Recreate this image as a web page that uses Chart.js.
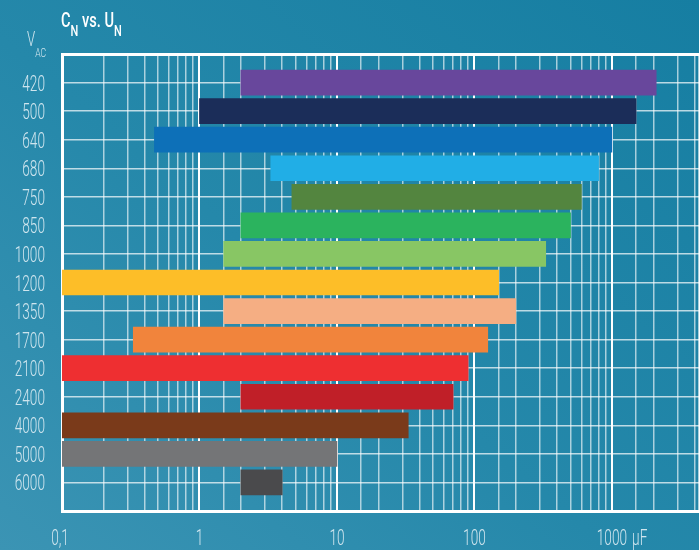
<!DOCTYPE html>
<html>
<head>
<meta charset="utf-8">
<script src="https://cdn.jsdelivr.net/npm/chart.js@4.4.1/dist/chart.umd.min.js"></script>
<style>
  html,body{margin:0;padding:0;overflow:hidden}
  #wrap{position:relative;width:699px;height:550px;
    background:linear-gradient(40deg,#3b94b4 0%,#2588aa 45%,#167ea2 100%)}
  #c{position:absolute;left:0;top:0}
  .lbl{position:absolute;font-family:Roboto,sans-serif;transform-origin:left top;white-space:nowrap;line-height:20px}
  .lbl sub{line-height:0}
  #ttl{left:61px;top:10px;font-size:20px;font-weight:500;color:#fff;transform:scaleX(0.73)}
  #ttl sub{font-size:15px;vertical-align:-9px}
  #vac{left:27px;top:29px;font-size:20px;font-weight:300;color:#cfe5ee;transform:scaleX(0.66)}
  #vac sub{font-size:13px;vertical-align:-11px}
</style>
</head>
<body>
<div id="wrap">
  <canvas id="c" width="699" height="550"></canvas>
  <div id="ttl" class="lbl">C<sub>N</sub> vs. U<sub>N</sub></div>
  <div id="vac" class="lbl">V<sub>AC</sub></div>
</div>
<script>
// ── DATA ────────────────────────────────────────────────────────────────────
const voltages = ['420','500','640','680','750','850','1000','1200','1350','1700','2100','2400','4000','5000','6000'];
const capMin  = [2, 1, 0.47, 3.3, 4.7, 2, 1.5, 0.1, 1.5, 0.33, 0.1, 2, 0.1, 0.1, 2];
const capMax  = [2100, 1500, 1000, 800, 600, 500, 330, 150, 200, 125, 90, 70, 33, 10, 4];
const barColors = ['#68479c','#1b2d59','#0d70b8','#21aee6','#53853f','#2bb35e','#88c664',
  '#fdbe28','#f5ae83','#f1843c','#ee2f31','#c01f28','#7a3a1a','#747577','#4a4a4c'];
const xDecades = [0.1, 1, 10, 100, 1000];
const xTickLabels = ['0,1', '1', '10', '100', '1000'];
const xUnit = 'μF';

const labelFont = '300 22px Roboto, sans-serif';
const labelColor = '#cfe5ee';
const squeeze = 0.62;   // the original lettering is a very narrow face
const isDecade = v => Math.abs(Math.log10(v) - Math.round(Math.log10(v))) < 1e-6;

// empty slots top and bottom so the first/last rows sit one step inside the frame
const labels = [''].concat(voltages, ['']);
const ranges = [null].concat(voltages.map((v,i) => [capMin[i], capMax[i]]), [null]);
const colors = ['#000'].concat(barColors, ['#000']);

function narrowText(ctx, txt, x, y, align) {
  ctx.save();
  ctx.translate(x, y);
  ctx.scale(squeeze, 1);
  ctx.textAlign = align;
  ctx.fillText(txt, 0, 0);
  ctx.restore();
}

// axis labels, positioned from the chart's own scales
const axisLabels = {
  id:'axisLabels',
  afterDraw(chart) {
    const ctx = chart.ctx, xs = chart.scales.x, ys = chart.scales.y;
    ctx.save();
    ctx.font = labelFont;
    ctx.fillStyle = labelColor;
    ctx.textBaseline = 'alphabetic';
    chart.data.labels.forEach((lab, i) => {
      if(!lab) return;
      narrowText(ctx, lab, ys.left + 45, ys.getPixelForTick(i) + 8, 'right');
    });
    const by = xs.top + 34;
    xDecades.forEach((d, i) => {
      const x = xs.getPixelForValue(d);
      narrowText(ctx, xTickLabels[i], d === 0.1 ? x - 2 : x, by, 'center');
      if(d === 1000) {
        const w = ctx.measureText(xTickLabels[i]).width * squeeze;
        narrowText(ctx, xUnit, x + w/2 + 5, by, 'left');
      }
    });
    ctx.restore();
  }
};

new Chart(document.getElementById('c'), {
  type:'bar',
  data:{
    labels,
    datasets:[{data:ranges, backgroundColor:colors, borderWidth:0, barThickness:25}]
  },
  options:{
    indexAxis:'y',
    responsive:false, animation:false,
    layout:{padding:{top:54, left:0, right:0, bottom:0}},
    plugins:{legend:{display:false}, tooltip:{enabled:false}},
    scales:{
      x:{
        type:'logarithmic', min:0.1, max:4300,
        afterFit(s){ s.height = 39; },
        border:{color:'#fff', width:3},
        grid:{
          drawTicks:false,
          color: c => isDecade(c.tick.value) ? '#ffffff' : 'rgba(255,255,255,0.62)',
          lineWidth: c => isDecade(c.tick.value) ? 2 : 1.5
        },
        ticks:{display:false, autoSkip:false}
      },
      y:{
        offset:false,
        afterFit(s){ s.width = 62; },
        border:{color:'#fff', width:3},
        grid:{
          offset:false, drawTicks:false,
          color: c => c.index === 0 ? '#ffffff' : 'rgba(255,255,255,0.7)',
          lineWidth: c => c.index === 0 ? 3 : 1.5
        },
        ticks:{display:false, autoSkip:false}
      }
    }
  },
  plugins:[axisLabels]
});
</script>
</body>
</html>
